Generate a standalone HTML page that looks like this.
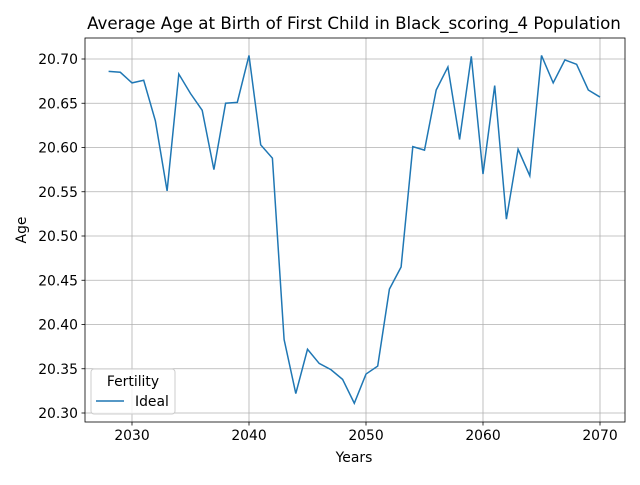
<!DOCTYPE html>
<html><head><meta charset="utf-8"><style>
body{margin:0;background:#fff;}
text{font-family:"DejaVu Sans","Liberation Sans",sans-serif;}
</style></head><body>
<svg id="chart" width="640" height="480" xmlns="http://www.w3.org/2000/svg">
<rect width="640" height="480" fill="#fff"/>
<text x="354" y="29" font-size="16.67" text-anchor="middle">Average Age at Birth of First Child in Black_scoring_4 Population</text>
<g id="grid"></g>
<g id="ticks"></g>
<polyline id="line" fill="none" stroke="#1f77b4" stroke-width="1.5"/>
<rect x="85" y="38" width="540" height="384" fill="none" stroke="#000" stroke-width="0.8"/>
<text x="354" y="462" font-size="13.9" text-anchor="middle">Years</text>
<text x="26" y="230" font-size="13.9" text-anchor="middle" transform="rotate(-90 26 230)">Age</text>
<g>
<rect x="91" y="369" width="84" height="45" rx="3" fill="#fff" fill-opacity="0.8" stroke="#ccc"/>
<text x="133" y="386" font-size="13.9" text-anchor="middle">Fertility</text>
<line x1="96" y1="401" x2="124" y2="401" stroke="#1f77b4" stroke-width="1.5"/>
<text x="135" y="406" font-size="13.9">Ideal</text>
</g>
</svg>
<script>
const years=[2028,2029,2030,2031,2032,2033,2034,2035,2036,2037,2038,2039,2040,2041,2042,2043,2044,2045,2046,2047,2048,2049,2050,2051,2052,2053,2054,2055,2056,2057,2058,2059,2060,2061,2062,2063,2064,2065,2066,2067,2068,2069,2070];
const ages=[20.686,20.685,20.673,20.676,20.630,20.551,20.683,20.661,20.642,20.575,20.650,20.651,20.704,20.603,20.588,20.383,20.322,20.372,20.356,20.349,20.338,20.311,20.344,20.353,20.440,20.465,20.601,20.597,20.665,20.691,20.609,20.703,20.570,20.670,20.519,20.598,20.568,20.704,20.673,20.699,20.694,20.665,20.657];
const xTicks=[2030,2040,2050,2060,2070];
const yTicks=[20.30,20.35,20.40,20.45,20.50,20.55,20.60,20.65,20.70];
const X=v=>132+(v-2030)*(600-132)/40;
const Y=v=>413-(v-20.30)*(413-59)/0.40;
const NS="http://www.w3.org/2000/svg";
const grid=document.getElementById('grid'),ticks=document.getElementById('ticks');
function mk(tag,attrs,parent){const e=document.createElementNS(NS,tag);for(const k in attrs)e.setAttribute(k,attrs[k]);parent.appendChild(e);return e;}
xTicks.forEach(t=>{const x=X(t);
 const g=mk('line',{x1:x,x2:x,y1:38,y2:422,stroke:'#b0b0b0','stroke-width':0.8},grid);
 
 
 mk('line',{x1:x,x2:x,y1:422,y2:425.5,stroke:'#000','stroke-width':0.8},ticks);
 const tx=mk('text',{x:x,y:440,'font-size':13.9,'text-anchor':'middle'},ticks);tx.textContent=t;
 
 
});
yTicks.forEach(t=>{const y=Y(t);
 const g=mk('line',{x1:85,x2:625,y1:y,y2:y,stroke:'#b0b0b0','stroke-width':0.8},grid);
 
 
 mk('line',{x1:81.5,x2:85,y1:y,y2:y,stroke:'#000','stroke-width':0.8},ticks);
 const tx=mk('text',{x:78,y:y+5,'font-size':13.9,'text-anchor':'end'},ticks);tx.textContent=t.toFixed(2);
 
 
});
document.getElementById('line').setAttribute('points',years.map((yr,i)=>X(yr)+','+Y(ages[i])).join(' '));
</script>
</body></html>
